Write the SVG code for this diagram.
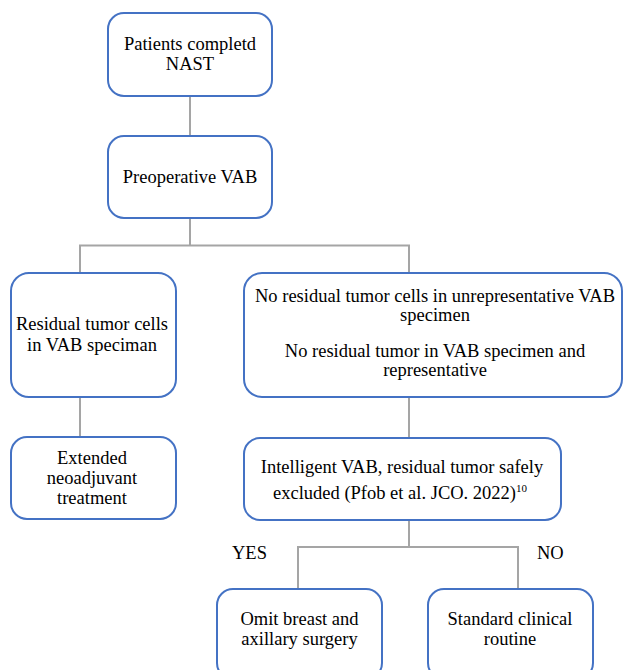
<svg xmlns="http://www.w3.org/2000/svg" width="624" height="670" viewBox="0 0 624 670">
<style>
.box{fill:#FFFFFF;stroke:#4472C4;stroke-width:2}
.conn{fill:none;stroke:#A5A5A5;stroke-width:2}
text{font-family:"Liberation Serif","Times New Roman","DejaVu Serif",serif;font-size:18.5px;fill:#000000}
.c{text-anchor:middle}
.sup{font-size:11px}
</style>
<rect width="624" height="670" fill="#FFFFFF"/>
<g id="connectors">
<path class="conn" d="M190 96V136"/>
<path class="conn" d="M190 218V245.5M80 273V245.5H409V273"/>
<path class="conn" d="M80 397V437"/>
<path class="conn" d="M409 397V438"/>
<path class="conn" d="M409 520V547M298 589V547H518V589"/>
</g>
<g id="n1">
<rect class="box" x="108" y="13" width="164" height="83" rx="16"/>
<text class="c" x="190" y="50">Patients completd</text>
<text class="c" x="190" y="70">NAST</text>
</g>
<g id="n2">
<rect class="box" x="108" y="136" width="164" height="82" rx="16"/>
<text class="c" x="190" y="183">Preoperative VAB</text>
</g>
<g id="n3">
<rect class="box" x="11" y="273" width="165" height="124" rx="18"/>
<text class="c" x="92" y="330">Residual tumor cells</text>
<text class="c" x="92" y="351">in VAB speciman</text>
</g>
<g id="n4">
<rect class="box" x="244" y="273" width="378" height="124" rx="18"/>
<text class="c" x="435" y="302">No residual tumor cells in unrepresentative VAB</text>
<text class="c" x="435" y="321">specimen</text>
<text class="c" x="435" y="357">No residual tumor in VAB specimen and</text>
<text class="c" x="435" y="376">representative</text>
</g>
<g id="n5">
<rect class="box" x="11" y="437" width="165" height="82" rx="16"/>
<text class="c" x="92" y="464">Extended</text>
<text class="c" x="92" y="484">neoadjuvant</text>
<text class="c" x="92" y="504">treatment</text>
</g>
<g id="n6">
<rect class="box" x="244" y="438" width="317" height="82" rx="16"/>
<text class="c" x="402" y="473">Intelligent VAB, residual tumor safely</text>
<text class="c" x="400" y="499">excluded (Pfob et al. JCO. 2022)<tspan class="sup" dy="-7">10</tspan></text>
</g>
<g id="n7">
<rect class="box" x="217" y="589" width="165" height="90" rx="16"/>
<text class="c" x="299.5" y="625">Omit breast and</text>
<text class="c" x="299.5" y="645">axillary surgery</text>
</g>
<g id="n8">
<rect class="box" x="428" y="589" width="165" height="90" rx="16"/>
<text class="c" x="510" y="625">Standard clinical</text>
<text class="c" x="510" y="645">routine</text>
</g>
<g id="labels">
<text x="232" y="559">YES</text>
<text x="537" y="559">NO</text>
</g>
</svg>
